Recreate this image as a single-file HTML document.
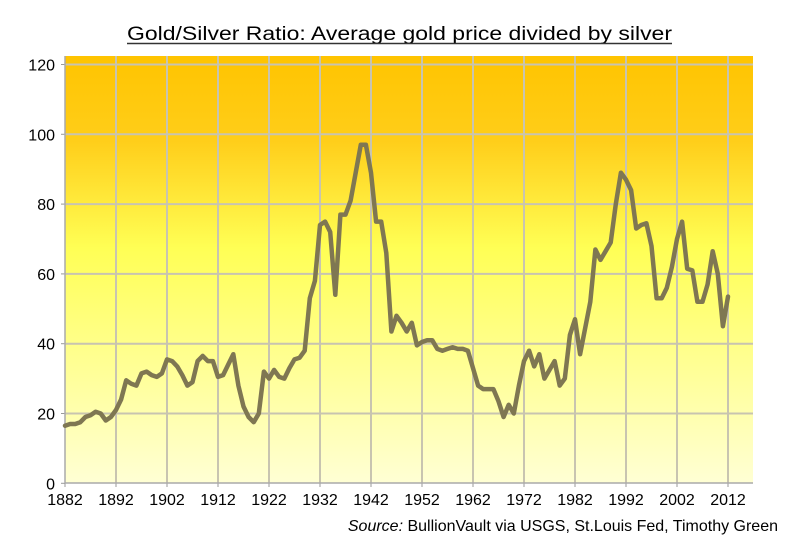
<!DOCTYPE html>
<html><head><meta charset="utf-8"><style>
html,body{margin:0;padding:0;background:#fff;}
svg{display:block;font-family:"Liberation Sans",Arial,sans-serif;}
</style></head><body>
<svg id="chart" width="788" height="546" viewBox="0 0 788 546">
<defs>
<linearGradient id="bg" x1="0" y1="0" x2="0" y2="1">
<stop offset="0" stop-color="#ffc400"/>
<stop offset="0.2" stop-color="#ffce1a"/>
<stop offset="0.45" stop-color="#ffff55"/>
<stop offset="0.75" stop-color="#ffff9a"/>
<stop offset="1" stop-color="#ffffd4"/>
</linearGradient>
</defs>
<text x="127" y="40" font-size="19" fill="#000" textLength="545" lengthAdjust="spacingAndGlyphs">Gold/Silver Ratio: Average gold price divided by silver</text>
<line x1="127" y1="43.5" x2="672" y2="43.5" stroke="#333" stroke-width="1.5"/>
<rect x="65" y="56" width="688" height="427" fill="url(#bg)"/>
<g id="grid"></g>
<g id="axes"></g>
<g id="series"></g>
<text x="778" y="531" font-size="16" text-anchor="end" fill="#000"><tspan font-style="italic">Source:</tspan> BullionVault via USGS, St.Louis Fed, Timothy Green</text>
</svg>
<script>
const startYear = 1882;
const ratio = [16.5,17,17,17.5,19,19.5,20.5,20,18,19,21,24,29.5,28.5,28,31.5,32,31,30.5,31.5,
35.5,35,33.5,31,28,29,35,36.5,35,35,30.5,31,34,37,28,22,19,17.5,20,32,
30,32.5,30.5,30,33,35.5,36,38,53,58,74,75,72,54,77,77,81,89,97,97,
89,75,75,66,43.5,48,46,43.5,46,39.5,40.5,41,41,38.5,38,38.5,39,38.5,38.5,38,
33,28,27,27,27,23.5,19,22.5,20,28,35,38,33.5,37,30,32.5,35,28,30,42.5,
47,37,44.5,52,67,64,66.5,69,80,89,87,84,73,74,74.5,68,53,53,56,62,
70,75,61.5,61,52,52,57,66.5,60,45,53.5];
const yTicks = [0,20,40,60,80,100,120];
const xTickYears = [1882,1892,1902,1912,1922,1932,1942,1952,1962,1972,1982,1992,2002,2012];

const NS = "http://www.w3.org/2000/svg";
const X0 = 65, PX_PER_YEAR = 5.1, Y0 = 483.3, PX_PER_UNIT = 3.49;
const PL = 65, PR = 753, PT = 56, PB = 483;
function xs(year){ return X0 + (year - startYear) * PX_PER_YEAR; }
function ys(v){ return Y0 - v * PX_PER_UNIT; }
function mk(tag, attrs, parent){
  const el = document.createElementNS(NS, tag);
  for (const k in attrs) el.setAttribute(k, attrs[k]);
  parent.appendChild(el);
  return el;
}
const grid = document.getElementById('grid');
const axes = document.getElementById('axes');
const series = document.getElementById('series');

yTicks.forEach(t => {
  const y = ys(t);
  if (t > 0) {
    const gl = mk('line', {x1:PL, x2:PR, y1:y, y2:y, stroke:'#c8c4b0', 'stroke-width':2}, grid);
    
    
  }
  const tk = mk('line', {x1:PL-4, x2:PL, y1:y, y2:y, stroke:'#999', 'stroke-width':1}, axes);
  
  
  const lb = mk('text', {x:PL-10, y:y+6, 'font-size':16, 'text-anchor':'end', fill:'#000'}, axes);
  lb.textContent = t;
  
  
});
xTickYears.forEach(yr => {
  const x = xs(yr);
  if (yr > startYear) {
    const gl = mk('line', {x1:x, x2:x, y1:PT, y2:PB, stroke:'#c8c4b0', 'stroke-width':2}, grid);
    
    
  }
  const tk = mk('line', {x1:x, x2:x, y1:PB, y2:PB+4, stroke:'#999', 'stroke-width':1}, axes);
  
  
  const lb = mk('text', {x:x, y:505, 'font-size':16, 'text-anchor':'middle', fill:'#000'}, axes);
  lb.textContent = yr;
  
  
});
const ax1 = mk('line', {x1:PL, x2:PL, y1:PT, y2:PB, stroke:'#aaa', 'stroke-width':1.5}, axes);


const ax2 = mk('line', {x1:PL, x2:PR, y1:PB, y2:PB, stroke:'#aaa', 'stroke-width':1.5}, axes);



const pts = ratio.map((v,i) => xs(startYear+i).toFixed(1) + ',' + ys(v).toFixed(1)).join(' ');
const line = mk('polyline', {points:pts, fill:'none', stroke:'#7f7752', 'stroke-width':4.5, 'stroke-linejoin':'round', 'stroke-linecap':'round'}, series);


</script>
</body></html>
